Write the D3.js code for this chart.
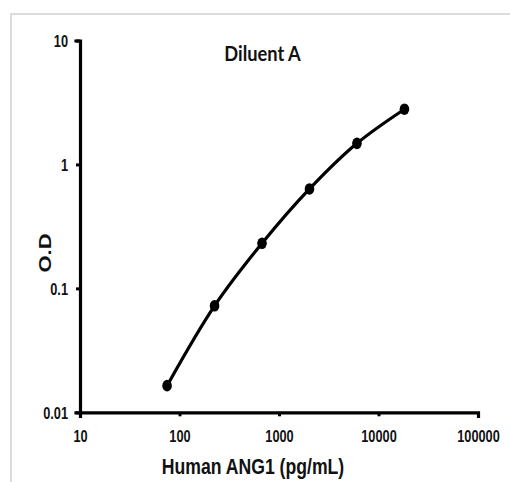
<!DOCTYPE html>
<html>
<head>
<meta charset="utf-8">
<script src="https://cdn.jsdelivr.net/npm/d3@7/dist/d3.min.js"></script>
<style>
  html, body { margin: 0; padding: 0; background: #fff; overflow: hidden; }
  svg { display: block; }
</style>
</head>
<body>
<svg id="chart" width="510" height="482"></svg>
<script>
// ---- Data ----
const concentrations = [75, 225, 675, 2025, 6075, 18225];   // Human ANG1 (pg/mL)
const odValues       = [0.0164, 0.0723, 0.231, 0.634, 1.48, 2.79];
const xTickValues    = [10, 100, 1000, 10000, 100000];
const xTickLabels    = ["10", "100", "1000", "10000", "100000"];
const yTickValues    = [0.01, 0.1, 1, 10];
const yTickLabels    = ["0.01", "0.1", "1", "10"];
const titleText      = "Diluent A";
const xTitle         = "Human ANG1 (pg/mL)";
const yTitle         = "O.D";

const svg = d3.select("#chart");
const W = 510, H = 482;
const margin = { left: 80, right: 32, top: 40.5, bottom: 70 };
const font = "'Liberation Sans', Arial, sans-serif";
const sx = 0.75; // horizontal condensation of text

// frame (only top and left edges visible)
svg.append("path")
  .attr("d", `M11,${H} V14 H${W}`)
  .attr("fill", "none").attr("stroke", "#dcdcdc").attr("stroke-width", 2);

const x = d3.scaleLog().domain([10, 100000]).range([margin.left, W - margin.right]);
const y = d3.scaleLog().domain([0.01, 10]).range([H - margin.bottom + 0.3, margin.top]);

// x axis
const xAxis = svg.append("g")
  .attr("transform", `translate(0,${y(0.01)})`)
  .call(d3.axisBottom(x).tickValues(xTickValues)
        .tickFormat((d, i) => xTickLabels[i]).tickSizeOuter(0).tickSize(4).tickPadding(0));
xAxis.select(".domain").attr("stroke", "#000").attr("stroke-width", 3.2);
xAxis.selectAll(".tick line").attr("stroke", "#000").attr("stroke-width", 3);
xAxis.selectAll(".tick text")
  .attr("y", 0).attr("dy", 0)
  .attr("transform", `translate(0,30) scale(${sx},1)`)
  .attr("font-family", font).attr("font-weight", "bold")
  .attr("font-size", 17).attr("fill", "#111");

// y axis
const yAxis = svg.append("g")
  .attr("transform", `translate(${x(10)},0)`)
  .call(d3.axisLeft(y).tickValues(yTickValues)
        .tickFormat((d, i) => yTickLabels[i]).tickSizeOuter(0).tickSize(4).tickPadding(0));
yAxis.select(".domain").attr("stroke", "#000").attr("stroke-width", 3.2);
yAxis.selectAll(".tick line").attr("stroke", "#000").attr("stroke-width", 3);
yAxis.selectAll(".tick text")
  .attr("x", 0).attr("dy", "0.35em")
  .attr("transform", `translate(-12,0) scale(${sx},1)`)
  .attr("font-family", font).attr("font-weight", "bold")
  .attr("font-size", 17).attr("fill", "#111");
svg.selectAll(".domain").attr("stroke-linecap", "square");

// curve
const pts = concentrations.map((c, i) => [c, odValues[i]]);
const line = d3.line()
  .x(d => x(d[0])).y(d => y(d[1]))
  .curve(d3.curveCatmullRom.alpha(0.5));
svg.append("path")
  .datum(pts)
  .attr("d", line)
  .attr("fill", "none").attr("stroke", "#000")
  .attr("stroke-width", 3.2).attr("stroke-linejoin", "round");

// points
svg.append("g").selectAll("ellipse")
  .data(pts).join("ellipse")
  .attr("cx", d => x(d[0])).attr("cy", d => y(d[1]))
  .attr("rx", 4.8).attr("ry", 5.8)
  .attr("fill", "#000");

// title
svg.append("g")
  .attr("transform", `translate(262.5,61) scale(0.85,1)`)
  .append("text")
  .attr("text-anchor", "middle")
  .attr("font-family", "Lato, 'Open Sans', sans-serif")
  .attr("font-weight", "bold").attr("font-size", 21.5).attr("fill", "#111")
  .text(titleText);

// x title
svg.append("g")
  .attr("transform", `translate(253,474) scale(0.82,1)`)
  .append("text")
  .attr("text-anchor", "middle")
  .attr("font-family", font)
  .attr("font-weight", "bold").attr("font-size", 21.5).attr("fill", "#111")
  .text(xTitle);

// y title
svg.append("g")
  .attr("transform", `translate(51,253) scale(0.78,1) rotate(-90)`)
  .append("text")
  .attr("text-anchor", "middle")
  .attr("font-family", font)
  .attr("font-weight", "bold").attr("font-size", 22).attr("fill", "#111")
  .text(yTitle);
</script>
</body>
</html>
